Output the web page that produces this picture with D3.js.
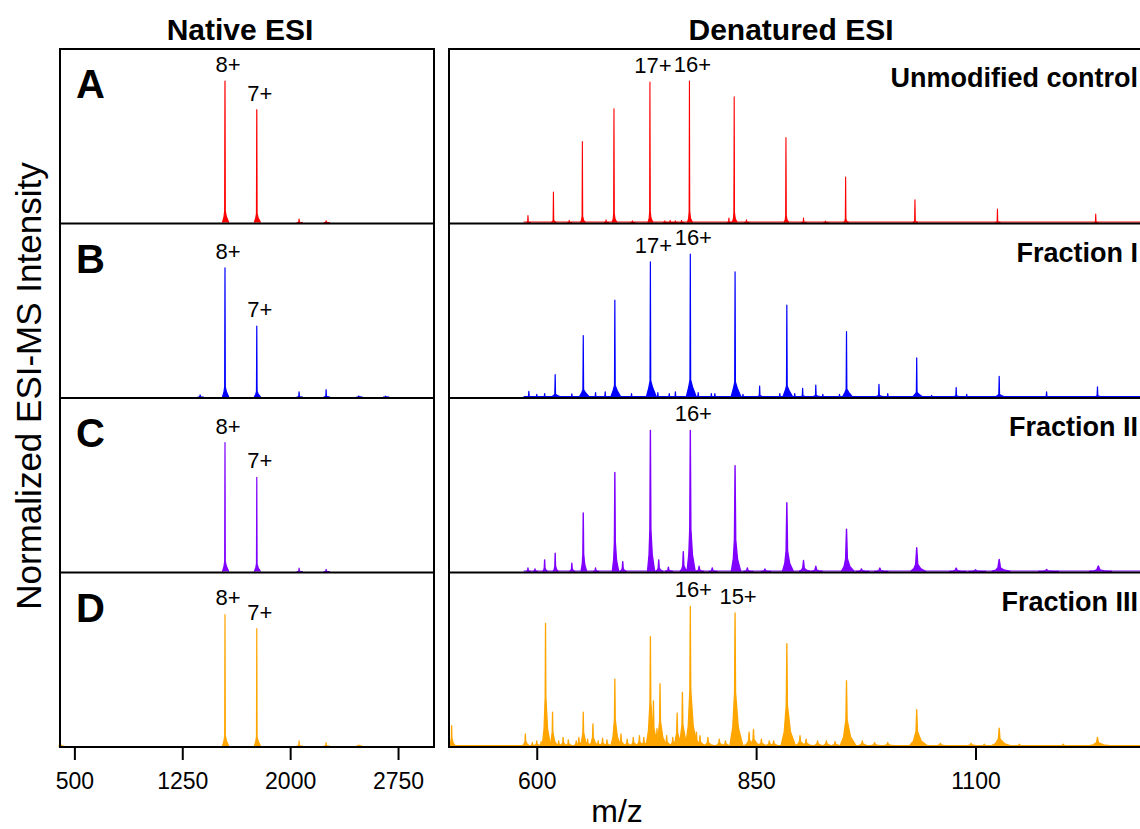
<!DOCTYPE html>
<html>
<head>
  <meta charset="utf-8">
  <title>Native vs denatured ESI-MS</title>
  <script src="https://cdn.jsdelivr.net/npm/d3@7"></script>
  <style>
    body { margin: 0; background: #fff; }
    text { font-family: "Liberation Sans", Arial, Helvetica, sans-serif; fill: #000; }
  </style>
</head>
<body>
<script>
  // ---- data: [m/z, height as fraction of panel] ----
  var rowLetters = ["A", "B", "C", "D"];
  var rowTitles = ["Unmodified control", "Fraction I", "Fraction II", "Fraction III"];
  var rowColors = ["#ff0000", "#0000ff", "#7f00ff", "#ffa500"];

  var leftTicks = [500, 1250, 2000, 2750];
  var rightTicks = [600, 850, 1100];

  // native ESI
  var nativeA = [[1547, 0.815], [1768, 0.65], [2062, 0.02], [2250, 0.01]];
  var nativeB = [[1374, 0.012], [1547, 0.744], [1768, 0.408], [2062, 0.03], [2250, 0.042], [2477, 0.006], [2663, 0.005]];
  var nativeC = [[1547, 0.743], [1768, 0.543], [2062, 0.02], [2250, 0.012]];
  var nativeD = [[405, 0.012], [1547, 0.758], [1768, 0.676], [2062, 0.03], [2250, 0.02], [2477, 0.006]];

  // denatured ESI
  var denatA = [[590, 0.04], [619, 0.175], [652, 0.466], [688, 0.655], [729, 0.809], [774, 0.815], [825, 0.724],
    [884, 0.49], [952, 0.262], [1031, 0.131], [1125, 0.077], [1237, 0.048],
    [637, 0.012], [679, 0.015], [709, 0.01], [746, 0.01], [752, 0.012], [758, 0.01], [765, 0.012],
    [819, 0.025], [839, 0.015], [904, 0.025], [929, 0.008]];
  var denatB = [[591, 0.033], [621, 0.129], [653, 0.354], [689, 0.558], [729.5, 0.779], [775, 0.823], [826, 0.721],
    [885, 0.529], [953, 0.377], [1033, 0.225], [1127, 0.119], [1239, 0.058],
    [600, 0.015], [609, 0.02], [640, 0.018], [667, 0.025], [678, 0.03], [708, 0.02], [738, 0.025], [751, 0.02],
    [758, 0.03], [784, 0.025], [799, 0.02], [803, 0.02], [835, 0.015], [854, 0.063], [877, 0.02], [894, 0.02],
    [903, 0.05], [918, 0.069], [926, 0.015], [945, 0.015], [990, 0.073], [1000, 0.02], [1050, 0.01],
    [1078, 0.054], [1090, 0.015], [1181, 0.029]];
  var denatC = [[590, 0.02], [621, 0.105], [653, 0.337], [689, 0.571], [729.5, 0.813], [775, 0.813], [826, 0.61],
    [885, 0.396], [953, 0.244], [1033, 0.137], [1127, 0.07], [1240, 0.032],
    [598, 0.015], [609, 0.067], [640, 0.048], [667, 0.02], [698, 0.057], [739, 0.067], [750, 0.025],
    [767, 0.114], [785, 0.03], [800, 0.02], [840, 0.02], [860, 0.015], [904, 0.063], [918, 0.03],
    [970, 0.015], [991, 0.02], [1078, 0.02], [1100, 0.01], [1181, 0.012]];
  var denatD = [[503, 0.118], [587, 0.07], [610, 0.706], [618, 0.195], [653, 0.195], [664, 0.128], [689, 0.386],
    [729.5, 0.63], [733, 0.26], [740.5, 0.359], [760, 0.19], [766, 0.309], [775, 0.805], [826, 0.767],
    [847, 0.095], [885, 0.59], [953, 0.376], [1033, 0.21], [1127, 0.103], [1239, 0.05],
    [595, 0.02], [600, 0.03], [605, 0.025], [614, 0.04], [625, 0.03], [630, 0.05], [636, 0.035], [645, 0.03],
    [648, 0.05], [658, 0.04], [670, 0.03], [675, 0.045], [680, 0.035], [696, 0.07], [703, 0.04], [710, 0.05],
    [717, 0.06], [722, 0.05], [737, 0.1], [748, 0.06], [755, 0.05], [782, 0.08], [786, 0.06], [795, 0.05],
    [808, 0.04], [815, 0.03], [842, 0.08], [856, 0.04], [865, 0.03], [870, 0.03], [900, 0.06], [907, 0.04],
    [920, 0.03], [930, 0.03], [940, 0.025], [971, 0.03], [985, 0.02], [1000, 0.02], [1060, 0.015],
    [1095, 0.015], [1110, 0.01], [1150, 0.01], [1200, 0.01]];

  var nativeData = [nativeA, nativeB, nativeC, nativeD];
  var denatData = [denatA, denatB, denatC, denatD];

  // charge-state labels: [text, m/z of the labelled peak]
  var nativeLabels = [[["8+", 1547], ["7+", 1768]], [["8+", 1547], ["7+", 1768]],
                      [["8+", 1547], ["7+", 1768]], [["8+", 1547], ["7+", 1768]]];
  var denatLabels = [[["17+", 729], ["16+", 774]], [["17+", 729.5], ["16+", 775]],
                     [["16+", 775]], [["16+", 775], ["15+", 826]]];

  // ---- layout ----
  var W = 1140, H = 829;
  var plotTop = 49, plotBottom = 747;
  var rowH = (plotBottom - plotTop) / 4;

  var svg = d3.select("body").append("svg")
    .attr("width", W)
    .attr("height", H);

  var xL = d3.scaleLinear().domain([400, 3000]).range([60, 434]);
  var xR = d3.scaleLinear().domain([500, 1300]).range([449, 1151]);

  // peak shape styles (pixels); mid = height fraction where the spike narrows
  var nativeStyle = {wb: 2.5, wf: 1, wt: 0.3, fh: 0.04, mid: 0.08, grow: 0, sw: 1.2};
  var denatStyles = [
    {wb: 2, wf: 0.8, wt: 0.3, fh: 0.03, mid: 0.08, grow: 0, sw: 1.1},
    {wb: 4, wf: 1.6, wt: 0.35, fh: 0.07, mid: 0.12, grow: 0, sw: 1.2},
    {wb: 3.5, wf: 1.6, wt: 0.6, fh: 0.12, mid: 0.3, grow: 2.2, sw: 1.4},
    {wb: 5, wf: 2.2, wt: 0.5, fh: 0.14, mid: 0.4, grow: 1.5, sw: 1.3}
  ];

  function peakPoints(x, y, d, st) {
    var mz = d[0], h = d[1];
    var k = st.grow ? Math.pow(mz / 800, st.grow) : 1;
    var x0 = x(mz);
    return [
      [x0 - st.wb * k, y(0)],
      [x0 - st.wf * k, y(h * st.fh)],
      [x0 - st.wt * k, y(h * st.mid)],
      [x0, y(h)],
      [x0 + st.wt * k, y(h * st.mid)],
      [x0 + st.wf * k * 1.4, y(h * st.fh)],
      [x0 + st.wb * k * 1.5, y(0)]
    ];
  }

  var line = d3.line();

  function drawSpectrum(g, x, y, peaks, color, st) {
    g.selectAll("path.peak")
      .data(peaks)
      .enter().append("path")
      .attr("class", "peak")
      .attr("d", function(d) { return line(peakPoints(x, y, d, st)); })
      .attr("fill", color)
      .attr("stroke", color)
      .attr("stroke-width", st.sw)
      .attr("stroke-linejoin", "round");
  }

  function drawLabels(g, x, y, peaks, labels) {
    labels.forEach(function(l) {
      var pk = peaks.reduce(function(a, b) {
        return Math.abs(b[0] - l[1]) < Math.abs(a[0] - l[1]) ? b : a;
      });
      g.append("text")
        .attr("x", x(l[1]) + 3)
        .attr("y", y(pk[1]) - 9)
        .attr("text-anchor", "middle")
        .attr("font-size", 22)
        .text(l[0]);
    });
  }

  for (var i = 0; i < 4; i++) {
    var y0 = plotTop + rowH * (i + 1);
    var y = d3.scaleLinear().domain([0, 1]).range([y0 - 1, y0 - rowH]);

    var gl = svg.append("g");
    drawSpectrum(gl, xL, y, nativeData[i], rowColors[i], nativeStyle);
    drawLabels(gl, xL, y, nativeData[i], nativeLabels[i]);

    var gr = svg.append("g");
    // faint baseline trace
    gr.append("line")
      .attr("x1", xR(i === 3 ? 500 : 585)).attr("x2", xR(1300))
      .attr("y1", y(0) - 0.5).attr("y2", y(0) - 0.5)
      .attr("stroke", rowColors[i]).attr("stroke-width", 1);
    drawSpectrum(gr, xR, y, denatData[i], rowColors[i], denatStyles[i]);
    drawLabels(gr, xR, y, denatData[i], denatLabels[i]);

    // panel letter and title
    svg.append("text")
      .attr("x", 76).attr("y", y0 - rowH + 49)
      .attr("font-size", 40).attr("font-weight", "bold")
      .text(rowLetters[i]);
    svg.append("text")
      .attr("x", 1138).attr("y", y0 - rowH + 38)
      .attr("text-anchor", "end")
      .attr("font-size", 27).attr("font-weight", "bold")
      .text(rowTitles[i]);
  }

  // ---- frames ----
  [xL.range(), xR.range()].forEach(function(r) {
    svg.append("rect")
      .attr("x", r[0]).attr("y", plotTop)
      .attr("width", r[1] - r[0]).attr("height", plotBottom - plotTop)
      .attr("fill", "none").attr("stroke", "#000").attr("stroke-width", 2);
    for (var j = 1; j < 4; j++) {
      svg.append("line")
        .attr("x1", r[0]).attr("x2", r[1])
        .attr("y1", plotTop + rowH * j).attr("y2", plotTop + rowH * j)
        .attr("stroke", "#000").attr("stroke-width", 2);
    }
  });

  // ---- axes ----
  function addAxis(x, ticks) {
    var g = svg.append("g")
      .attr("transform", "translate(0," + plotBottom + ")")
      .call(d3.axisBottom(x).tickValues(ticks).tickFormat(d3.format("d"))
        .tickSize(13).tickPadding(13).tickSizeOuter(0));
    g.select(".domain").remove();
    g.selectAll("line").attr("stroke-width", 2);
    g.attr("font-size", 23).attr("font-family", "Liberation Sans, Arial, sans-serif");
  }
  addAxis(xL, leftTicks);
  addAxis(xR, rightTicks);

  // ---- titles ----
  svg.append("text")
    .attr("x", 240).attr("y", 40)
    .attr("text-anchor", "middle")
    .attr("font-size", 30).attr("font-weight", "bold")
    .text("Native ESI");
  svg.append("text")
    .attr("x", 791).attr("y", 40)
    .attr("text-anchor", "middle")
    .attr("font-size", 30).attr("font-weight", "bold")
    .text("Denatured ESI");
  svg.append("text")
    .attr("x", 617).attr("y", 822)
    .attr("text-anchor", "middle")
    .attr("font-size", 32)
    .text("m/z");
  svg.append("text")
    .attr("transform", "translate(41,386) rotate(-90)")
    .attr("text-anchor", "middle")
    .attr("font-size", 35)
    .text("Normalized ESI-MS Intensity");
</script>
</body>
</html>
